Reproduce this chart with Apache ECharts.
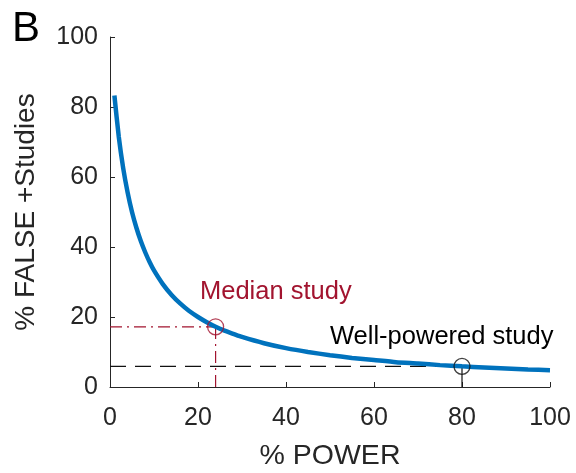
<!DOCTYPE html>
<html><head><meta charset="utf-8">
<script src="https://cdn.jsdelivr.net/npm/echarts@6/dist/echarts.min.js"></script>
<style>html,body{margin:0;padding:0;background:#fff}#c{width:576px;height:473px}</style>
</head><body><div id="c"></div>
<script>
// Power (%) sampled along the curve
const powerX = [1,2,3,4,5,6,7,8,9,10,12,14,16,18,20,22,24,26,28,30,35,40,45,50,55,60,65,70,75,80,85,90,95,100];
// % false positive studies
const falsePos = [83.3,71.4,62.5,55.6,50.0,45.5,41.7,38.5,35.7,33.3,29.4,26.3,23.8,21.7,20.0,18.5,17.2,16.1,15.2,14.3,12.5,11.1,10.0,9.1,8.3,7.7,7.1,6.7,6.25,5.9,5.6,5.3,5.0,4.8];
const medianStudy = [24, 17.2];
const wellPowered = [80, 5.9];
const xTicks = [0,20,40,60,80,100];
const yTicks = [0,20,40,60,80,100];

const FONT = 'Liberation Sans, Arial, Helvetica, sans-serif';
const AX = '#262626';
const RED = '#A2142F';
const BLUE = '#0072BD';

const chart = echarts.init(document.getElementById('c'), null, {renderer:'canvas'});
chart.setOption({
  animation:false,
  grid:{left:110,right:26,top:37,bottom:86,containLabel:false,outerBoundsMode:'none'},
  xAxis:{type:'value',min:xTicks[0],max:xTicks[xTicks.length-1],interval:20,
    name:'% POWER',nameLocation:'middle',nameGap:55,
    nameTextStyle:{fontFamily:FONT,fontSize:28.5,color:AX},
    axisLine:{lineStyle:{color:AX,width:1}},
    axisTick:{inside:true,length:5,lineStyle:{color:AX}},
    axisLabel:{fontFamily:FONT,fontSize:25,color:AX,margin:19},
    splitLine:{show:false}},
  yAxis:{type:'value',min:yTicks[0],max:yTicks[yTicks.length-1],interval:20,
    name:'% FALSE +Studies',nameLocation:'middle',nameGap:70,nameRotate:90,
    nameTextStyle:{fontFamily:FONT,fontSize:28,color:AX},
    axisLine:{show:true,lineStyle:{color:AX,width:1}},
    axisTick:{show:true,inside:true,length:5,lineStyle:{color:AX}},
    axisLabel:{fontFamily:FONT,fontSize:25,color:AX,margin:12},
    splitLine:{show:false}},
  series:[
    {type:'line',data:[[0,medianStudy[1]],medianStudy],symbol:'none',
      lineStyle:{color:RED,width:1.2,type:[12,5,2,5]},z:2},
    {type:'line',data:[[medianStudy[0],0],medianStudy],symbol:'none',
      lineStyle:{color:RED,width:1.2,type:[12,5,2,5]},z:2},
    {type:'line',data:[[0,wellPowered[1]],wellPowered],symbol:'none',
      lineStyle:{color:'#111',width:1.2,type:[16,9]},z:2},
    {type:'line',data:[[wellPowered[0],0],wellPowered],symbol:'none',
      lineStyle:{color:'#111',width:1.2,type:'solid'},z:2},
    {type:'line',data:powerX.map((x,i)=>[x,falsePos[i]]),symbol:'none',smooth:0.2,
      lineStyle:{color:BLUE,width:4.5},z:3},
    {type:'scatter',data:[medianStudy],symbol:'circle',symbolSize:16,
      itemStyle:{color:'rgba(0,0,0,0)',borderColor:RED,borderWidth:1.3},z:4},
    {type:'scatter',data:[wellPowered],symbol:'circle',symbolSize:16,
      itemStyle:{color:'rgba(0,0,0,0)',borderColor:'#111',borderWidth:1.3},z:4}
  ],
  graphic:[
    {type:'text',left:12,top:8,style:{text:'B',font:'42px '+FONT,fill:'#000'}},
    {type:'text',left:200,top:279,style:{text:'Median study',font:'25.5px '+FONT,fill:RED}},
    {type:'text',left:330,top:324,style:{text:'Well-powered study',font:'25.5px '+FONT,fill:'#000'}}
  ]
});
</script></body></html>
